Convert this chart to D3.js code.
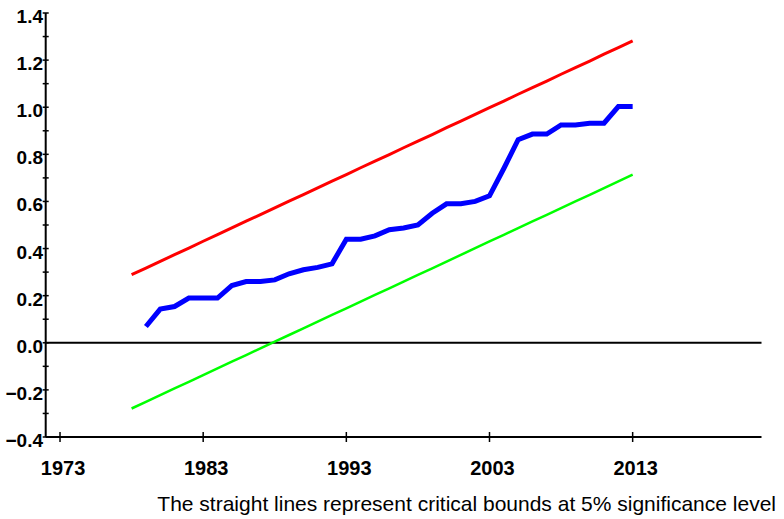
<!DOCTYPE html>
<html>
<head>
<meta charset="utf-8">
<script src="https://cdn.jsdelivr.net/npm/d3@7"></script>
<style>
  body { margin: 0; background: #fff; }
  svg text { font-family: Arial, "Liberation Sans", sans-serif; fill: #000; }
</style>
</head>
<body>
<div id="chart"></div>
<script>
var width = 784,
  height = 519;

// yearly values
var boundYears = d3.range(1978, 2014);
var upperBound = [0.289, 0.317, 0.346, 0.374, 0.402, 0.431, 0.459, 0.488, 0.516, 0.544,
  0.573, 0.601, 0.629, 0.658, 0.686, 0.714, 0.743, 0.771, 0.799, 0.828,
  0.856, 0.884, 0.913, 0.941, 0.970, 0.998, 1.026, 1.055, 1.083, 1.111,
  1.140, 1.168, 1.196, 1.225, 1.253, 1.282];
var lowerBound = [-0.279, -0.251, -0.222, -0.194, -0.166, -0.137, -0.109, -0.080, -0.052, -0.024,
  0.005, 0.033, 0.061, 0.090, 0.118, 0.146, 0.175, 0.203, 0.231, 0.260,
  0.288, 0.316, 0.345, 0.373, 0.402, 0.430, 0.458, 0.487, 0.515, 0.543,
  0.572, 0.600, 0.628, 0.657, 0.685, 0.714];

var statYears = d3.range(1979, 2014);
var cusumSq = [0.069, 0.143, 0.154, 0.190, 0.190, 0.190, 0.243, 0.260, 0.260, 0.267,
  0.293, 0.310, 0.320, 0.335, 0.440, 0.440, 0.454, 0.480, 0.487, 0.500,
  0.550, 0.590, 0.590, 0.600, 0.624, 0.740, 0.862, 0.886, 0.886, 0.925,
  0.925, 0.932, 0.932, 1.003, 1.003];

var xTicks = [1973, 1983, 1993, 2003, 2013];
var yTicks = [-0.4, -0.2, 0.0, 0.2, 0.4, 0.6, 0.8, 1.0, 1.2, 1.4];
var yMinor = [-0.3, -0.1, 0.1, 0.3, 0.5, 0.7, 0.9, 1.1, 1.3];
var caption = "The straight lines represent critical bounds at 5% significance level";

var x = d3.scaleLinear().domain([1972, 2022]).range([45.7, 761.5]);
var y = d3.scaleLinear().domain([-0.4, 1.4]).range([437, 13]);

var svg = d3.select("#chart").append("svg")
  .attr("width", width)
  .attr("height", height);

//Axes
svg.append("line")
  .attr("x1", x(1972)).attr("x2", x(1972))
  .attr("y1", y(1.4)).attr("y2", y(-0.4))
  .attr("stroke", "#000").attr("stroke-width", 2);

svg.append("line")
  .attr("x1", x(1972)).attr("x2", x(2022))
  .attr("y1", y(-0.4)).attr("y2", y(-0.4))
  .attr("stroke", "#000").attr("stroke-width", 2);

//zero line
svg.append("line")
  .attr("x1", x(1972)).attr("x2", x(2022))
  .attr("y1", y(0)).attr("y2", y(0))
  .attr("stroke", "#000").attr("stroke-width", 2);

//y ticks (crossing the axis)
svg.selectAll("line.ytick")
  .data(yTicks.concat(yMinor))
  .enter().append("line")
  .attr("class", "ytick")
  .attr("x1", x(1972) - 3).attr("x2", x(1972) + 3)
  .attr("y1", function(d) { return y(d); })
  .attr("y2", function(d) { return y(d); })
  .attr("stroke", "#000").attr("stroke-width", 1.5);

svg.selectAll("text.ylab")
  .data(yTicks)
  .enter().append("text")
  .attr("class", "ylab")
  .attr("x", 43)
  .attr("y", function(d) { return y(d) + 10; })
  .attr("text-anchor", "end")
  .style("font-size", "19px")
  .style("font-weight", "bold")
  .text(function(d) { return d3.format(".1f")(d); });

//x ticks
svg.selectAll("line.xtick")
  .data(xTicks)
  .enter().append("line")
  .attr("class", "xtick")
  .attr("x1", function(d) { return x(d); })
  .attr("x2", function(d) { return x(d); })
  .attr("y1", y(-0.4) - 5).attr("y2", y(-0.4) + 5)
  .attr("stroke", "#000").attr("stroke-width", 1.5);

svg.selectAll("text.xlab")
  .data(xTicks)
  .enter().append("text")
  .attr("class", "xlab")
  .attr("x", function(d) { return x(d) + 3; })
  .attr("y", 475)
  .attr("text-anchor", "middle")
  .style("font-size", "20px")
  .style("font-weight", "bold")
  .text(function(d) { return d; });

//Lines
var line = d3.line()
  .x(function(d) { return x(d[0]); })
  .y(function(d) { return y(d[1]); });

svg.append("path")
  .datum(d3.zip(boundYears, upperBound))
  .attr("fill", "none")
  .attr("stroke", "#ff0000")
  .attr("stroke-width", 3)
  .attr("d", line);

svg.append("path")
  .datum(d3.zip(boundYears, lowerBound))
  .attr("fill", "none")
  .attr("stroke", "#00ff00")
  .attr("stroke-width", 2.5)
  .attr("d", line);

svg.append("path")
  .datum(d3.zip(statYears, cusumSq))
  .attr("fill", "none")
  .attr("stroke", "#0000ff")
  .attr("stroke-width", 5)
  .attr("d", line);

//Caption
svg.append("text")
  .attr("x", 776)
  .attr("y", 511)
  .attr("text-anchor", "end")
  .style("font-size", "21px")
  .text(caption);
</script>
</body>
</html>
